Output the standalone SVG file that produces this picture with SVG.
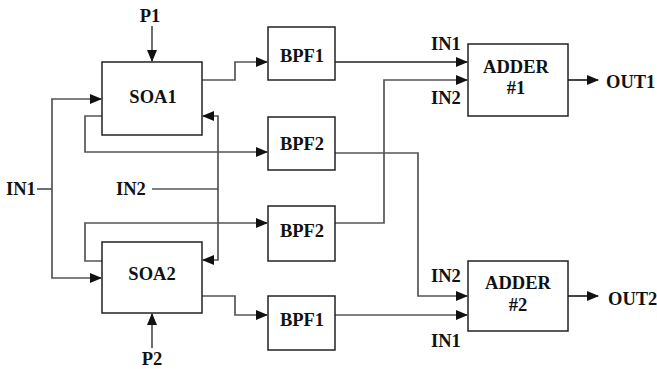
<svg xmlns="http://www.w3.org/2000/svg" width="657" height="369" viewBox="0 0 657 369">
<style>
.box{fill:#fff;stroke:#222;stroke-width:1.5}
.t{font-family:"Liberation Serif","Times New Roman",serif;font-weight:bold;font-size:18.5px;fill:#111}
.c{text-anchor:middle}
.w{fill:none;stroke:#555;stroke-width:1.7}
.k{fill:none;stroke:#222;stroke-width:1.7}
</style>
<defs>
<marker id="ah" markerUnits="userSpaceOnUse" markerWidth="12" markerHeight="10" refX="11" refY="5" orient="auto">
<path d="M0,0 L12,5 L0,10 Z" fill="#111"/>
</marker>
</defs>
<rect width="657" height="369" fill="#fff"/>
<g id="connectors">
<path class="w" d="M152,26 V61" marker-end="url(#ah)"/>
<path class="w" d="M152,348 V314" marker-end="url(#ah)"/>
<path class="w" d="M37,189 H52"/>
<path class="w" d="M52,189 V99 H101" marker-end="url(#ah)"/>
<path class="w" d="M52,189 V278 H101" marker-end="url(#ah)"/>
<path class="w" d="M152,189 H218"/>
<path class="w" d="M218,189 V116 H203" marker-end="url(#ah)"/>
<path class="w" d="M218,189 V260 H203" marker-end="url(#ah)"/>
<path class="w" d="M202,80 H235 V62 H267" marker-end="url(#ah)"/>
<path class="w" d="M102,116 H85 V152 H267" marker-end="url(#ah)"/>
<path class="w" d="M102,261 H85 V223 H267" marker-end="url(#ah)"/>
<path class="w" d="M202,296 H235 V315 H267" marker-end="url(#ah)"/>
<path class="k" d="M335,62 H467" marker-end="url(#ah)"/>
<path class="w" d="M335,223 H384 V80 H467" marker-end="url(#ah)"/>
<path class="w" d="M335,153 H418 V296 H467" marker-end="url(#ah)"/>
<path class="w" d="M335,315 H467" marker-end="url(#ah)"/>
<path class="k" d="M568,80 H598" marker-end="url(#ah)"/>
<path class="k" d="M568,296 H598" marker-end="url(#ah)"/>
</g>
<g id="soa1"><rect class="box" x="102" y="62" width="100" height="73"/><text class="t c" x="153" y="103">SOA1</text></g>
<g id="soa2"><rect class="box" x="102" y="242" width="100" height="71"/><text class="t c" x="152" y="280">SOA2</text></g>
<g id="bpf1a"><rect class="box" x="268" y="27" width="67" height="53"/><text class="t c" x="302" y="62">BPF1</text></g>
<g id="bpf2a"><rect class="box" x="268" y="117" width="67" height="53"/><text class="t c" x="302" y="150">BPF2</text></g>
<g id="bpf2b"><rect class="box" x="268" y="206" width="67" height="55"/><text class="t c" x="302" y="237">BPF2</text></g>
<g id="bpf1b"><rect class="box" x="268" y="296" width="67" height="54"/><text class="t c" x="302" y="326">BPF1</text></g>
<g id="adder1"><rect class="box" x="468" y="44" width="100" height="72"/><text class="t c" x="516" y="73">ADDER</text><text class="t c" x="516" y="94">#1</text></g>
<g id="adder2"><rect class="box" x="468" y="261" width="100" height="70"/><text class="t c" x="518" y="289">ADDER</text><text class="t c" x="518" y="311">#2</text></g>
<g id="labels">
<text class="t c" x="150" y="22">P1</text>
<text class="t c" x="152" y="365">P2</text>
<text class="t" x="6" y="195">IN1</text>
<text class="t" x="116" y="195">IN2</text>
<text class="t" x="431" y="50">IN1</text>
<text class="t" x="431" y="104">IN2</text>
<text class="t" x="431" y="282">IN2</text>
<text class="t" x="431" y="347">IN1</text>
<text class="t" x="606" y="88">OUT1</text>
<text class="t" x="608" y="305">OUT2</text>
</g>
</svg>
